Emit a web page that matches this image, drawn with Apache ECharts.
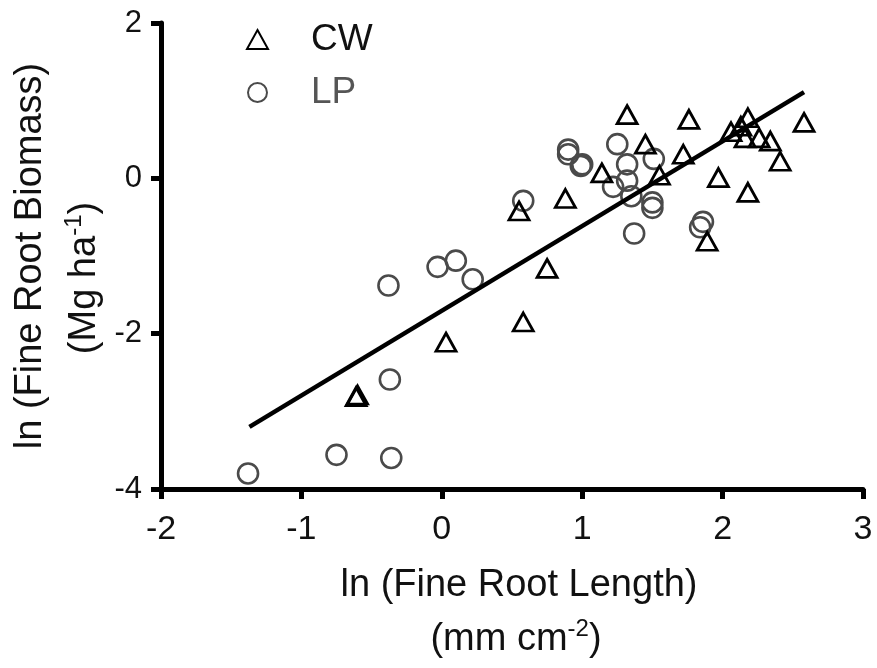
<!DOCTYPE html>
<html>
<head>
<meta charset="utf-8">
<script src="https://cdn.jsdelivr.net/npm/echarts@6/dist/echarts.min.js"></script>
<style>
html,body{margin:0;padding:0;background:#fff;}
#chart{width:877px;height:668px;}
</style>
</head>
<body>
<div id="chart"></div>
<script>
// CW (triangles): [ln length, ln biomass]
var cwData = [
  [-0.60, -2.79], [-0.61, -2.81], [0.03, -2.11], [0.58, -1.85], [0.75, -1.16],
  [0.55, -0.42], [0.88, -0.26], [1.14, 0.07], [1.32, 0.82], [1.45, 0.44],
  [1.55, 0.04], [1.72, 0.31], [1.76, 0.76], [1.89, -0.81], [1.97, 0.01],
  [2.06, 0.60], [2.13, 0.67], [2.16, 0.52], [2.18, 0.78], [2.18, -0.18],
  [2.26, 0.52], [2.34, 0.48], [2.41, 0.22], [2.58, 0.72]
];
// LP (circles)
var lpData = [
  [-1.38, -3.80], [-0.75, -3.56], [-0.36, -3.60], [-0.37, -2.59], [-0.38, -1.38],
  [-0.03, -1.14], [0.10, -1.06], [0.22, -1.30], [0.58, -0.29], [0.90, 0.37],
  [0.90, 0.31], [0.99, 0.16], [1.00, 0.18], [1.25, 0.44], [1.32, 0.18],
  [1.22, -0.11], [1.32, -0.03], [1.35, -0.23], [1.51, 0.25], [1.50, -0.31],
  [1.50, -0.38], [1.37, -0.71], [1.86, -0.56], [1.84, -0.63]
];
// regression line endpoints
var fitLine = [[-1.37, -3.20], [2.58, 1.11]];
var seriesNames = ['CW', 'LP'];

var FONT = 'Liberation Sans, Arial, Helvetica, sans-serif';
var chart = echarts.init(document.getElementById('chart'), null, {renderer: 'canvas'});
var option = {
  backgroundColor: '#fff',
  animation: false,
  grid: {left: 161, right: 14, top: 23, bottom: 179, containLabel: false},
  legend: {
    orient: 'vertical',
    left: 241,
    top: 16,
    itemWidth: 21,
    itemHeight: 19,
    itemGap: 16,
    data: [
      {name: seriesNames[0], textStyle: {color: '#111'}},
      {name: seriesNames[1], textStyle: {color: '#555'}}
    ],
    textStyle: {fontFamily: FONT, fontSize: 37, padding: [0, 0, 0, 38]}
  },
  xAxis: {
    type: 'value', min: -2, max: 3, interval: 1,
    splitLine: {show: false},
    axisLine: {onZero: false, lineStyle: {color: '#000', width: 5}},
    axisTick: {length: 10, lineStyle: {color: '#000', width: 5}},
    axisLabel: {margin: 24, color: '#111', fontFamily: FONT, fontSize: 34}
  },
  yAxis: {
    type: 'value', min: -4, max: 2, interval: 2,
    splitLine: {show: false},
    axisLine: {onZero: false, lineStyle: {color: '#000', width: 5}},
    axisTick: {length: 10, lineStyle: {color: '#000', width: 5}},
    axisLabel: {margin: 19, color: '#111', fontFamily: FONT, fontSize: 31}
  },
  graphic: [
    {type: 'text', x: 519, y: 586, style: {text: 'ln (Fine Root Length)', font: '38px ' + FONT, fill: '#111', align: 'center', verticalAlign: 'middle'}},
    {type: 'text', x: 516, y: 640, style: {
      text: '{b|(mm cm}{s|-2}{b|)}', align: 'center', verticalAlign: 'middle', fill: '#111',
      rich: {b: {fontSize: 38, fontFamily: FONT, lineHeight: 46, fill: '#111'}, s: {fontSize: 24, fontFamily: FONT, lineHeight: 46, verticalAlign: 'top', fill: '#111'}}
    }},
    {type: 'text', x: 31, y: 256, rotation: Math.PI / 2, style: {text: 'ln (Fine Root Biomass)', font: '38px ' + FONT, fill: '#111', align: 'center', verticalAlign: 'middle'}},
    {type: 'text', x: 85, y: 278, rotation: Math.PI / 2, style: {
      text: '{b|(Mg ha}{s|-1}{b|)}', align: 'center', verticalAlign: 'middle', fill: '#111',
      rich: {b: {fontSize: 38, fontFamily: FONT, lineHeight: 46, fill: '#111'}, s: {fontSize: 24, fontFamily: FONT, lineHeight: 46, verticalAlign: 'top', fill: '#111'}}
    }}
  ],
  series: [
    {
      name: seriesNames[0], type: 'scatter', data: cwData,
      symbol: 'triangle', symbolSize: [20, 18],
      itemStyle: {color: 'rgba(255,255,255,0)', borderColor: '#000', borderWidth: 2.8, opacity: 1},
      z: 3
    },
    {
      name: seriesNames[1], type: 'scatter', data: lpData,
      symbol: 'circle', symbolSize: 20,
      itemStyle: {color: 'rgba(255,255,255,0)', borderColor: '#4a4a4a', borderWidth: 2.6, opacity: 1},
      z: 2
    },
    {
      type: 'line', data: fitLine, showSymbol: false, symbol: 'none',
      lineStyle: {color: '#000', width: 4.5}, z: 4, silent: true
    }
  ]
};
chart.setOption(option);
</script>
</body>
</html>
